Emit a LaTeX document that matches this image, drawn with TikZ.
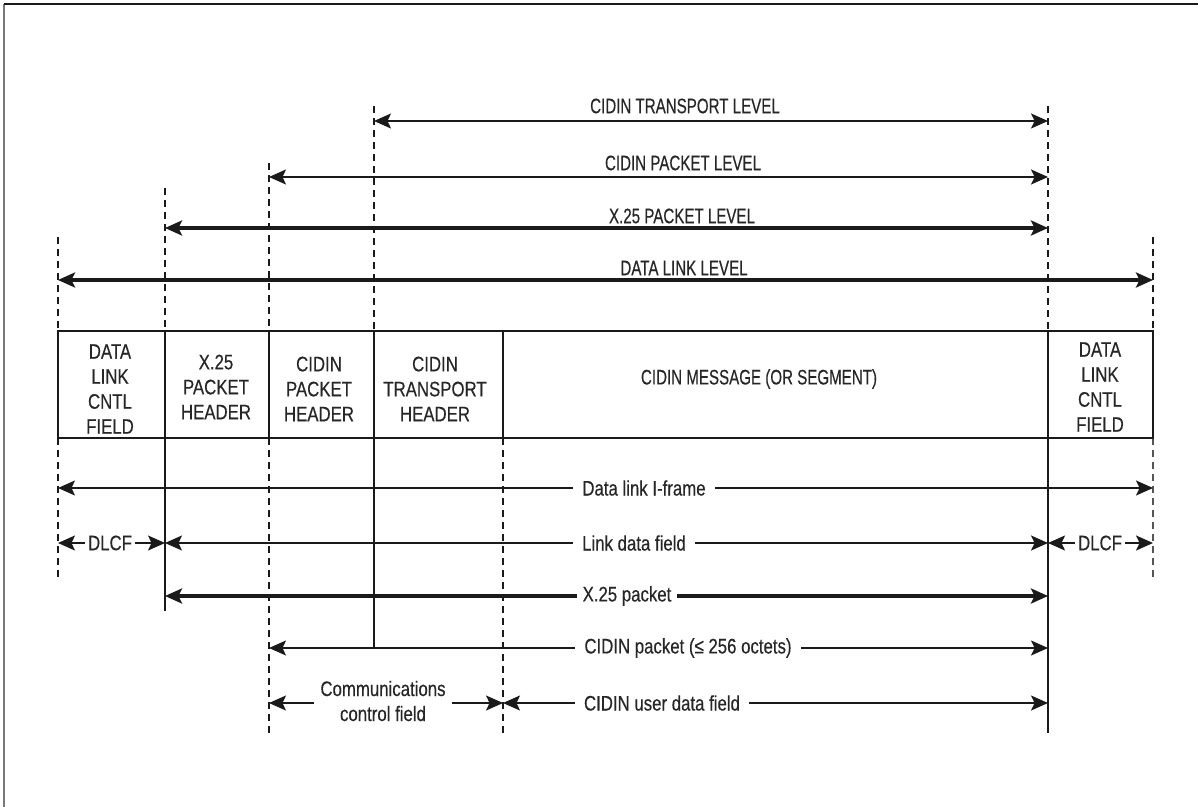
\documentclass[tikz,border=0pt]{standalone}
\usepackage{fontspec}
\setmainfont{Liberation Sans}[FakeStretch=0.8,FakeBold=0.35]
\newfontfamily\narrowfont{Liberation Sans}[FakeStretch=0.72,FakeBold=0.35]
\usetikzlibrary{arrows.meta}
\definecolor{ink}{HTML}{1A1A1A}
\definecolor{txt}{HTML}{262626}
\definecolor{framegray}{HTML}{7A7A7A}
\definecolor{guidegray}{HTML}{555555}
\tikzset{
  tip/.style={-{Stealth[length=8.5pt,width=7.5pt,inset=1.8pt]}},
  dtip/.style={{Stealth[length=8.5pt,width=7.5pt,inset=1.8pt]}-{Stealth[length=8.5pt,width=7.5pt,inset=1.8pt]}},
  thinarrow/.style={draw=ink, line width=1pt},
  thickarrow/.style={draw=ink, line width=1.6pt},
  guide/.style={draw=ink, line width=0.75pt, dash pattern=on 3.5pt off 2.5pt},
  lightguide/.style={draw=guidegray, line width=0.7pt, dash pattern=on 3.5pt off 2.5pt},
  solidguide/.style={draw=ink, line width=0.8pt},
  boxline/.style={draw=ink, line width=1pt},
  celltext/.style={font=\fontsize{10.5}{12.5}\selectfont, text=txt, align=center, inner sep=0pt},
  msgtext/.style={font=\narrowfont\fontsize{10.5}{12.5}\selectfont, text=txt, inner sep=0pt},
  toplbl/.style={font=\narrowfont\fontsize{10.5}{12.5}\selectfont, text=txt, inner sep=0pt},
  lbl/.style={font=\fontsize{10.5}{12.5}\selectfont, text=txt, inner xsep=4.5pt, inner ysep=1pt},
}
\begin{document}
\begin{tikzpicture}[x=0.5pt,y=-0.5pt]
\useasboundingbox (0,0) rectangle (1198,807);
% frame (cut off at right and bottom)
\draw[framegray, line width=1pt] (4,807) -- (4,4);
\draw[ink, line width=1pt] (4,4) -- (1198,4);

% vertical guide lines above the box
\draw[guide] (58,237) -- (58,331);
\draw[guide] (165,188) -- (165,331);
\draw[guide] (269,163) -- (269,331);
\draw[guide] (374,106) -- (374,331);
\draw[guide] (1048,106) -- (1048,331);
\draw[guide] (1153,237) -- (1153,331);
% vertical guide lines below the box
\draw[guide] (58,438) -- (58,577);
\draw[solidguide] (165,438) -- (165,611);
\draw[guide] (269,438) -- (269,733);
\draw[solidguide] (374,438) -- (374,648);
\draw[guide] (503,438) -- (503,733);
\draw[solidguide] (1048,438) -- (1048,733);
\draw[lightguide] (1153,438) -- (1153,577);

% the frame structure
\draw[boxline] (58,331) rectangle (1153,438);
\foreach \xx in {165,269,374,503,1048} \draw[boxline] (\xx,331) -- (\xx,438);
\node[celltext] (c1) at (110,389) {DATA\\LINK\\CNTL\\FIELD};
\node[celltext] (c2) at (216,387) {X.25\\PACKET\\HEADER};
\node[celltext] (c3) at (319,389) {CIDIN\\PACKET\\HEADER};
\node[celltext] (c4) at (435,389) {CIDIN\\TRANSPORT\\HEADER};
\node[msgtext] (c5) at (759,379) {CIDIN MESSAGE (OR SEGMENT)};
\node[celltext] (c6) at (1100,387) {DATA\\LINK\\CNTL\\FIELD};

% top level arrows
\coordinate (tl-l) at (374,121); \coordinate (tl-r) at (1048,121);
\coordinate (pl-l) at (269,177); \coordinate (pl-r) at (1048,177);
\coordinate (xl-l) at (165,228); \coordinate (xl-r) at (1048,228);
\coordinate (dl-l) at (58,280);  \coordinate (dl-r) at (1153,280);
\draw[thinarrow, dtip] (tl-l) -- (tl-r);
\draw[thinarrow, dtip] (pl-l) -- (pl-r);
\draw[thickarrow, dtip] (xl-l) -- (xl-r);
\draw[thickarrow, dtip] (dl-l) -- (dl-r);
\node[toplbl] (ltl) at (685,106) {CIDIN TRANSPORT LEVEL};
\node[toplbl] (lpl) at (683,163) {CIDIN PACKET LEVEL};
\node[toplbl] (lxl) at (682,216) {X.25 PACKET LEVEL};
\node[toplbl] (ldl) at (684,268) {DATA LINK LEVEL};

% lower arrows with labels on the line
\node[lbl] (if) at (644,488) {Data link I-frame};
\coordinate (if-l) at (58,488); \coordinate (if-r) at (1153,488);
\draw[thinarrow, tip] (if.west) -- (if-l);
\draw[thinarrow, tip] (if.east) -- (if-r);

\node[lbl] (ldf) at (634,543) {Link data field};
\coordinate (ldf-l) at (165,543); \coordinate (ldf-r) at (1048,543);
\draw[thinarrow, tip] (ldf.west) -- (ldf-l);
\draw[thinarrow, tip] (ldf.east) -- (ldf-r);

\node[lbl, inner xsep=1.5pt] (dlcf1) at (110,543) {DLCF};
\coordinate (d1-l) at (58,543); \coordinate (d1-r) at (165,543);
\draw[thinarrow, tip] (dlcf1.west) -- (d1-l);
\draw[thinarrow, tip] (dlcf1.east) -- (d1-r);

\node[lbl, inner xsep=1.5pt] (dlcf2) at (1100,543) {DLCF};
\coordinate (d2-l) at (1048,543); \coordinate (d2-r) at (1153,543);
\draw[thinarrow, tip] (dlcf2.west) -- (d2-l);
\draw[thinarrow, tip] (dlcf2.east) -- (d2-r);

\node[lbl, inner xsep=2.5pt] (xp) at (627,596) {X.25 packet};
\coordinate (xp-l) at (165,596); \coordinate (xp-r) at (1048,596);
\draw[thickarrow, tip] (xp.west) -- (xp-l);
\draw[thickarrow, tip] (xp.east) -- (xp-r);

\node[lbl] (cp) at (688,648) {CIDIN packet (≤ 256 octets)};
\coordinate (cp-l) at (269,648); \coordinate (cp-r) at (1048,648);
\draw[thinarrow, tip] (cp.west) -- (cp-l);
\draw[thinarrow, tip] (cp.east) -- (cp-r);

\node[lbl, align=center, inner xsep=3pt] (ccf) at (383,701) {Communications\\control field};
\coordinate (ccf-l) at (269,703); \coordinate (ccf-r) at (503,703);
\draw[thinarrow, tip] (ccf.west |- ccf-l) -- (ccf-l);
\draw[thinarrow, tip] (ccf.east |- ccf-r) -- (ccf-r);

\node[lbl] (ud) at (662,703) {CIDIN user data field};
\coordinate (ud-l) at (503,703); \coordinate (ud-r) at (1048,703);
\draw[thinarrow, tip] (ud.west) -- (ud-l);
\draw[thinarrow, tip] (ud.east) -- (ud-r);
\end{tikzpicture}
\end{document}
